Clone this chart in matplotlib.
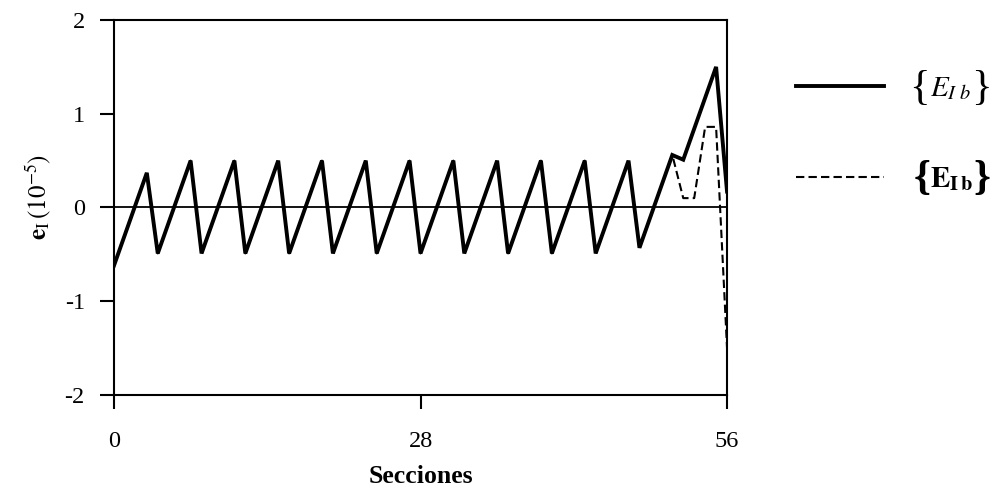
import numpy as np
import matplotlib
matplotlib.use("Agg")
import matplotlib.pyplot as plt
from matplotlib.transforms import IdentityTransform

plt.rcParams["font.family"] = ["Liberation Serif", "DejaVu Serif"]
plt.rcParams["mathtext.fontset"] = "stix"
plt.rcParams["axes.unicode_minus"] = False

# vertices of the two curves (section, value in 1e-5)
x_solid = [0, 3, 4, 7, 8, 11, 12, 15, 16, 19, 20, 23, 24, 27, 28, 31, 32,
           35, 36, 39, 40, 43, 44, 47, 48, 51, 52, 55, 56]
y_solid = [-0.62, 0.37, -0.49, 0.50, -0.49, 0.50, -0.49, 0.50, -0.49, 0.50,
           -0.49, 0.50, -0.49, 0.50, -0.49, 0.50, -0.49, 0.50, -0.49, 0.50,
           -0.49, 0.50, -0.49, 0.50, -0.43, 0.56, 0.51, 1.50, 0.17]

x_dash = [0, 3, 4, 7, 8, 11, 12, 15, 16, 19, 20, 23, 24, 27, 28, 31, 32,
          35, 36, 39, 40, 43, 44, 47, 48, 51, 52, 53, 54, 55, 56]
y_dash = [-0.62, 0.37, -0.49, 0.50, -0.49, 0.50, -0.49, 0.50, -0.49, 0.50,
          -0.49, 0.50, -0.49, 0.50, -0.49, 0.50, -0.49, 0.50, -0.49, 0.50,
          -0.49, 0.50, -0.49, 0.50, -0.43, 0.56, 0.10, 0.10, 0.86, 0.86, -1.50]

xticks = [0, 28, 56]
yticks = [-2, -1, 0, 1, 2]
labels = [r"$E_{I\ b}$", r"$\mathbf{E}_{\mathbf{I\,b}}$"]

fig = plt.figure(figsize=(9.98, 4.88), dpi=100)
ax = fig.add_axes([0.1142, 0.1906, 0.6143, 0.7684])

ax.axhline(0, color="black", lw=1.3, zorder=1)
l2, = ax.plot(x_dash, y_dash, color="black", lw=1.5, ls=(0, (4, 2)), zorder=2)
l1, = ax.plot(x_solid, y_solid, color="black", lw=2.8, zorder=3,
              solid_joinstyle="miter")

ax.set_xlim(0, 56)
ax.set_ylim(-2, 2)
ax.set_xticks(xticks)
ax.set_yticks(yticks)
ax.set_xticklabels([str(t) for t in xticks])
ax.set_yticklabels([str(t) for t in yticks])
for s in ax.spines.values():
    s.set_linewidth(1.5)
ax.tick_params(axis="both", direction="out", length=10, width=1.5,
               labelsize=17.5)
ax.tick_params(axis="y", pad=11)
ax.tick_params(axis="x", pad=16)

ax.set_xlabel("Secciones", fontsize=18.5, fontweight="bold", labelpad=9)
ax.set_ylabel(r"$\mathbf{e}_{\mathrm{I}}\,(10^{-5})$", fontsize=18)
ax.yaxis.set_label_coords(-0.10, 0.528)

leg = fig.legend([l1, l2], labels,
                 loc="upper left", bbox_to_anchor=(0.7976, 0.845),
                 frameon=False, borderpad=0, borderaxespad=0,
                 fontsize=21, handlelength=3.0, handletextpad=1.6,
                 labelspacing=2.15)

# curly braces around the legend labels
fig.canvas.draw()
rend = fig.canvas.get_renderer()
for t, w in zip(leg.get_texts(), ["normal", "bold"]):
    bb = t.get_window_extent(rend)
    yc = (bb.y0 + bb.y1) / 2
    fig.text(bb.x0, yc, "{", fontsize=31, fontweight=w, ha="right",
             va="center", transform=IdentityTransform())
    fig.text(bb.x1, yc, "}", fontsize=31, fontweight=w, ha="left",
             va="center", transform=IdentityTransform())

plt.savefig("out.png", dpi=100)
plt.close()
